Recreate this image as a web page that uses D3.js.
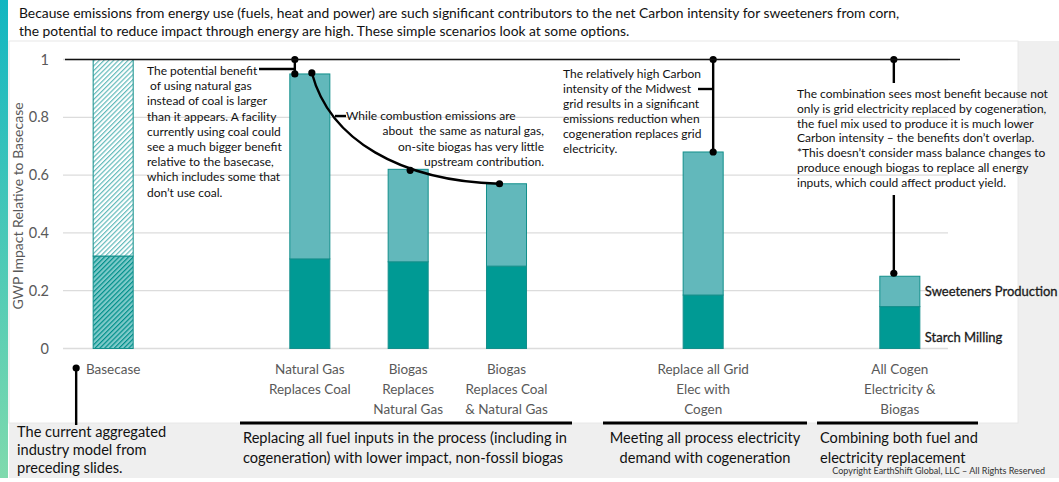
<!DOCTYPE html>
<html>
<head>
<meta charset="utf-8">
<script src="https://cdn.jsdelivr.net/npm/d3@7"></script>
<style>
  body { margin: 0; background: #fff; }
  svg { display: block; font-family: Lato, "Open Sans", sans-serif; }
  .ann { font-size: 12px; fill: #111; }
  .grp { font-size: 14.6px; fill: #111; }
</style>
</head>
<body>
<div id="chart"></div>
<script>
// categories (blank slots keep the gaps between the groups of scenarios)
const categories = [
  "Basecase", "",
  "Natural Gas|Replaces Coal",
  "Biogas|Replaces|Natural Gas",
  "Biogas|Replaces Coal|& Natural Gas", "",
  "Replace all Grid|Elec with|Cogen", "",
  "All Cogen|Electricity &|Biogas"
]
const starchMilling        = [0.32, null, 0.31, 0.30, 0.285, null, 0.185, null, 0.145]
const sweetenersProduction = [0.68, null, 0.64, 0.32, 0.285, null, 0.495, null, 0.105]
const seriesNames = ["Starch Milling", "Sweeteners Production"]
const yTicks = [0, 0.2, 0.4, 0.6, 0.8, 1]

const title = [
  "Because emissions from energy use (fuels, heat and power) are such significant contributors to the net Carbon intensity for sweeteners from corn,",
  "the potential to reduce impact through energy are high. These simple scenarios look at some options."
]

const width = 1059, height = 482
const svg = d3.select("#chart").append("svg").attr("width", width).attr("height", height)

// page background panels
const defs = svg.append("defs")
const grad = defs.append("linearGradient").attr("id", "side").attr("x1", 0).attr("y1", 0).attr("x2", 0).attr("y2", 1)
grad.append("stop").attr("offset", "0%").attr("stop-color", "#12b6c1")
grad.append("stop").attr("offset", "100%").attr("stop-color", "#7fdaad")

svg.append("rect").attr("x", 9).attr("y", 41).attr("width", width - 9).attr("height", 437).attr("fill", "#efefef")
svg.append("rect").attr("x", 9).attr("y", 41).attr("width", 1009).attr("height", 382)
  .attr("fill", "#fff").attr("stroke", "#e8e8e8").attr("stroke-width", 1)
svg.append("rect").attr("x", 0).attr("y", 0).attr("width", 8).attr("height", 478).attr("fill", "url(#side)")

// hatch patterns for the basecase bar
function hatch(id, bg, fg) {
  const p = defs.append("pattern").attr("id", id).attr("patternUnits", "userSpaceOnUse")
    .attr("width", 3.4).attr("height", 3.4).attr("patternTransform", "rotate(45)")
  p.append("rect").attr("width", 3.4).attr("height", 3.4).attr("fill", bg)
  p.append("line").attr("x1", 0).attr("y1", 0).attr("x2", 0).attr("y2", 3.4)
    .attr("stroke", fg).attr("stroke-width", 2.4)
}
hatch("hatchLight", "#ffffff", "#62baba")
hatch("hatchDark", "#7fcaca", "#008f8a")

const colors = ["#009a94", "#62b8bb"]
const hatches = ["url(#hatchDark)", "url(#hatchLight)"]

const x = d3.scaleBand()
  .domain(d3.range(categories.length))
  .range([64, 949])
  .paddingInner(0.593)
  .paddingOuter(0.2965)

const y = d3.scaleLinear().domain([0, 1]).range([348.5, 59.5])

// title
svg.append("g").selectAll("text").data(title).join("text")
  .attr("x", 19).attr("y", (d, i) => 18 + i * 18)
  .attr("font-size", 13.85).attr("fill", "#111")
  .text(d => d)

// gridlines
svg.append("g").selectAll("line").data(yTicks).join("line")
  .attr("x1", 63).attr("x2", 948)
  .attr("y1", d => y(d)).attr("y2", d => y(d))
  .attr("stroke", "#dcdcdc").attr("stroke-width", 1.3)

// y axis
const yAxis = svg.append("g").attr("transform", "translate(51,0)")
  .call(d3.axisLeft(y).tickValues(yTicks).tickFormat(d => String(d)).tickSize(0).tickPadding(2))
yAxis.select(".domain").remove()
yAxis.selectAll("text").attr("font-family", "Lato, sans-serif").attr("font-size", 14.5).attr("fill", "#595959")

svg.append("text")
  .attr("transform", "translate(23,206) rotate(-90)")
  .attr("text-anchor", "middle").attr("font-size", 14).attr("fill", "#595959")
  .text("GWP Impact Relative to Basecase")

// stacked bars
const rows = categories.map((c, i) => ({ i, starch: starchMilling[i], sweet: sweetenersProduction[i] }))
  .filter(d => d.starch != null)
const stack = d3.stack().keys(["starch", "sweet"])(rows)

svg.append("g").selectAll("g").data(stack).join("g")
  .each(function(layer, k) {
    d3.select(this).selectAll("rect").data(layer).join("rect")
      .attr("x", d => x(d.data.i))
      .attr("width", x.bandwidth())
      .attr("y", d => y(d[1]))
      .attr("height", d => y(d[0]) - y(d[1]))
      .attr("fill", d => d.data.i === 0 ? hatches[k] : colors[k])
      .attr("stroke", "#138f8b").attr("stroke-width", 1)
  })

// category axis
const xAxis = svg.append("g").attr("transform", "translate(0,362)")
  .call(d3.axisBottom(x).tickSize(0).tickFormat(""))
xAxis.select(".domain").remove()
xAxis.selectAll(".tick").each(function(i) {
  const t = d3.select(this).append("text")
    .attr("fill", "#595959").attr("font-size", 13.5).attr("text-anchor", "middle")
    .attr("font-family", "Lato, sans-serif")
  categories[i].split("|").forEach((s, j) => {
    t.append("tspan").attr("x", 0).attr("y", 12 + j * 20).text(s)
  })
})

// series labels at the right of the last bar
const last = rows[rows.length - 1]
const lastStack = stack.map(l => l[l.length - 1])
svg.append("g").selectAll("text").data(seriesNames).join("text")
  .attr("x", x(last.i) + x.bandwidth() + 5)
  .attr("y", (d, k) => k === 0 ? y(lastStack[0][0]) - 7 : y((lastStack[1][0] + lastStack[1][1]) / 2) + 5)
  .attr("font-size", 13).attr("fill", "#1a1a1a")
  .attr("stroke", "#1a1a1a").attr("stroke-width", 0.3)
  .text(d => d)

// --- annotations ---
const ink = svg.append("g").attr("stroke", "#000").attr("fill", "none").attr("stroke-width", 2.4)
const dots = svg.append("g").attr("fill", "#000")
const dot = (cx, cy) => dots.append("circle").attr("cx", cx).attr("cy", cy).attr("r", 3.6)
const seg = (x1, y1, x2, y2) => ink.append("line").attr("x1", x1).attr("y1", y1).attr("x2", x2).attr("y2", y2)
const mid = i => x(i) + x.bandwidth() / 2
const total = i => starchMilling[i] + sweetenersProduction[i]

// reference line at the basecase level
svg.append("line").attr("x1", 65).attr("x2", 960).attr("y1", y(1)).attr("y2", y(1))
  .attr("stroke", "#111").attr("stroke-width", 1.5)

function textBlock(lines, x0, y0, lh, anchor, cls) {
  svg.append("g").selectAll("text").data(lines).join("text")
    .attr("class", cls || "ann")
    .attr("x", x0)
    .attr("text-anchor", anchor)
    .attr("y", (d, j) => y0 + j * lh)
    .style("white-space", "pre")
    .text(d => d)
}

// natural gas note
textBlock([
  "The potential benefit", " of using natural gas", "instead of coal is larger",
  "than it appears. A facility", "currently using coal could", "see a much bigger benefit",
  "relative to the basecase,", "which includes some that", "don\u2019t use coal."
], 147, 75, 15.2, "start")
const ngX = mid(2) - 15
seg(259, 69, ngX, 69)
seg(ngX, y(1), ngX, y(total(2)))
dot(ngX, y(1)); dot(ngX, y(total(2)))

// biogas curve through the bar tops
const p0 = [mid(2) + 2, y(total(2)) - 1], p3 = [mid(4) - 7, y(total(4))]
const path = d3.path()
path.moveTo(p0[0], p0[1])
path.bezierCurveTo(p0[0] + 18, p0[1] + 67, p0[0] + 88, p3[1] - 3, p3[0], p3[1])
ink.append("path").attr("d", path.toString())
dot(p0[0], p0[1]); dot(mid(3) + 2, y(total(3)) + 1); dot(p3[0], p3[1])
seg(335, 116, 346, 116)
svg.append("g").selectAll("text").data([
  "While combustion emissions are", "about  the same as natural gas,",
  "on-site biogas has very little", "upstream contribution."
]).join("text").attr("class", "ann")
  .attr("x", (d, j) => j === 0 ? 346 : 544)
  .attr("text-anchor", (d, j) => j === 0 ? "start" : "end")
  .attr("y", (d, j) => 120 + j * 15.3)
  .style("white-space", "pre")
  .text(d => d)

// grid electricity note
textBlock([
  "The relatively high Carbon", "intensity of the Midwest", "grid results in a significant",
  "emissions reduction when", "cogeneration replaces grid", "electricity."
], 563, 78, 15, "start")
const gX = mid(6) + 10
seg(698, 89, gX, 89)
seg(gX, y(1), gX, y(total(6)))
dot(gX, y(1)); dot(gX, y(total(6)))

// combined note
textBlock([
  "The combination sees most benefit because not", "only is grid electricity replaced by cogeneration,",
  "the fuel mix used to produce it is much lower", "Carbon intensity \u2013 the benefits don\u2019t overlap.",
  "*This doesn\u2019t consider mass balance changes to", "produce enough biogas to replace all energy",
  "inputs, which could affect product yield."
], 797, 98, 14.8, "start")
const cX = mid(8) - 6
seg(cX, y(1), cX, 83)
seg(cX, 195, cX, y(total(8)) - 3)
dot(cX, y(1)); dot(cX, y(total(8)) - 3)

// basecase note
const bX = mid(0) - 37
seg(bX, 368, bX, 425)
dot(bX, 368)
textBlock(["The current aggregated", "industry model from", "preceding slides."], 17, 437, 18, "start", "grp")

// group brackets
const groups = [
  { x1: 240, x2: 572, lines: ["Replacing all fuel inputs in the process (including in", "cogeneration) with lower impact, non-fossil biogas"], tx: 243, anchor: "start" },
  { x1: 603, x2: 807, lines: ["Meeting all process electricity", "demand with cogeneration"], tx: 705, anchor: "middle" },
  { x1: 817, x2: 978, lines: ["Combining both fuel and", "electricity replacement"], tx: 820, anchor: "start" }
]
groups.forEach(g => {
  svg.append("line").attr("x1", g.x1).attr("x2", g.x2).attr("y1", 423).attr("y2", 423)
    .attr("stroke", "#000").attr("stroke-width", 3)
  textBlock(g.lines, g.tx, 443, 19.5, g.anchor, "grp")
})

svg.append("text").attr("x", 1045).attr("y", 474).attr("text-anchor", "end")
  .attr("font-size", 9).attr("fill", "#333")
  .text("Copyright EarthShift Global, LLC \u2013 All Rights Reserved")
</script>
</body>
</html>
